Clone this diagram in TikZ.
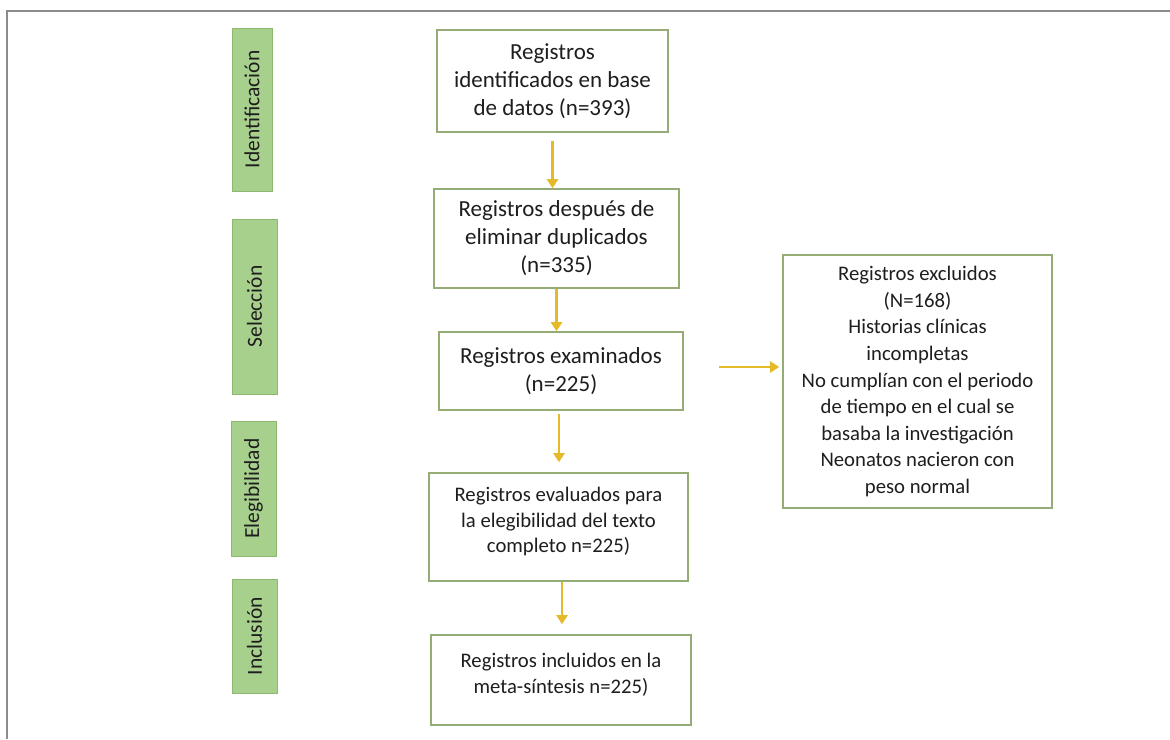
\documentclass[tikz,border=0pt]{standalone}
\usepackage{fontspec}
\setmainfont{Carlito}
\usetikzlibrary{arrows.meta,calc}
\definecolor{framegray}{RGB}{140,140,140}
\definecolor{phasefill}{RGB}{168,208,141}
\definecolor{phasedraw}{RGB}{140,185,110}
\definecolor{boxdraw}{RGB}{150,172,118}
\definecolor{arrowgold}{RGB}{228,186,40}
\definecolor{txt}{RGB}{30,30,30}
\tikzset{
  phase/.style={draw=phasedraw, fill=phasefill, line width=1pt, rotate=90, inner sep=0pt,
    font=\fontsize{21.5}{24}\selectfont, text=txt},
  stage/.style={draw=boxdraw, line width=1.6pt, fill=white, align=center, inner sep=0pt, text=txt},
  big/.style={font=\fontsize{23}{28}\selectfont},
  small/.style={font=\fontsize{20.7}{25.5}\selectfont},
  flow/.style={draw=arrowgold, line width=2.4pt, -{Triangle[length=9pt,width=11pt]}}
}
\begin{document}
\begin{tikzpicture}[x=1pt,y=-1pt]
\useasboundingbox (0,0) rectangle (1170,739);
\fill[white] (0,0) rectangle (1170,739);
\draw[framegray, line width=2pt] (1170,11) -- (7,11) -- (7,739);

\node[phase, minimum width=163pt, minimum height=40pt] (p1) at (252,109.5) {Identificación};
\node[phase, minimum width=175pt, minimum height=45pt] (p2) at (254.5,306.5) {Selección};
\node[phase, minimum width=135pt, minimum height=45pt] (p3) at (253.5,488.5) {Elegibilidad};
\node[phase, minimum width=114pt, minimum height=45pt] (p4) at (254.5,636) {Inclusión};

\node[stage, big, minimum width=231pt, minimum height=102pt] (b1) at (552.5,81)
  {Registros\\identificados en base\\de datos (n=393)};
\node[stage, big, minimum width=245pt, minimum height=99pt] (b2) at (556.5,238.5)
  {Registros después de\\eliminar duplicados\\(n=335)};
\node[stage, big, minimum width=244pt, minimum height=78pt] (b3) at (561,371)
  {Registros examinados\\(n=225)};
\node[stage, small, minimum width=259pt, minimum height=108pt] (b4) at (558.5,527)
  {Registros evaluados para\\la elegibilidad del texto\\completo n=225)\\[-12pt]};
\node[stage, small, minimum width=260pt, minimum height=90pt] (b5) at (561,680)
  {Registros incluidos en la\\meta-síntesis n=225)\\[-12pt]};
\node[stage, font=\fontsize{20.7}{26.6}\selectfont, minimum width=269pt, minimum height=253pt] (ex) at (917.5,381.5)
  {Registros excluidos\\(N=168)\\Historias clínicas\\incompletas\\No cumplían con el periodo\\de tiempo en el cual se\\basaba la investigación\\Neonatos nacieron con\\peso normal};

\draw[flow, shorten <=8pt] (b1.south) -- (b1.south |- b2.north);
\draw[flow] (b2.south) -- (b2.south |- b3.north);
\draw[flow, shorten <=3pt, shorten >=10pt] ([xshift=-2pt]b3.south) -- ([xshift=-2pt]b3.south |- b4.north);
\draw[flow, shorten >=10pt] ([xshift=3.5pt]b4.south) -- ([xshift=3.5pt]b4.south |- b5.north);
\draw[flow, shorten <=35pt, shorten >=3pt] ([yshift=4pt]b3.east) -- ([yshift=4pt]b3.east -| ex.west);
\end{tikzpicture}
\end{document}
